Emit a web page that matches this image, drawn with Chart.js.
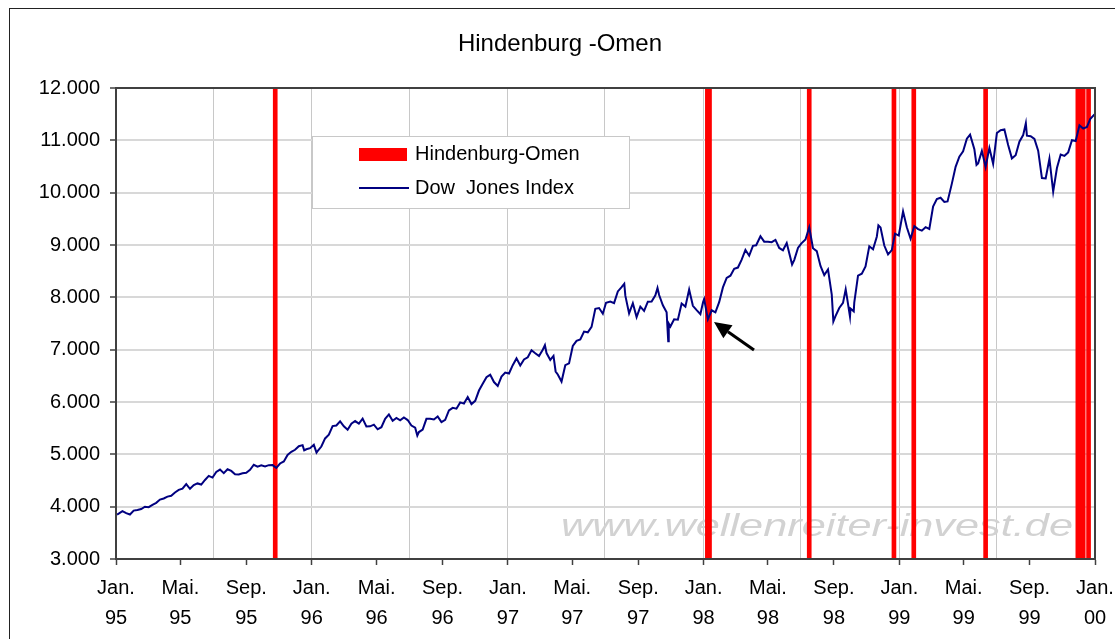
<!DOCTYPE html>
<html>
<head>
<meta charset="utf-8">
<script src="https://cdn.jsdelivr.net/npm/chart.js@4.4.1/dist/chart.umd.min.js"></script>
<style>
  html, body { margin: 0; padding: 0; background: #fff; overflow: hidden; }
  #wrap { width: 1115px; height: 639px; position: relative; }
</style>
</head>
<body>
<div id="wrap"><canvas id="c" width="1115" height="639"></canvas></div>
<script>
// ---------- DATA ----------
const chartTitle = 'Hindenburg -Omen';
const seriesOmenLabel = 'Hindenburg-Omen';
const seriesDowLabel = 'Dow  Jones Index';
const watermarkText = 'www.wellenreiter-invest.de';

const dowDates = [
'1995-01-03','1995-01-06','1995-01-13','1995-01-20','1995-01-27','1995-02-03','1995-02-10','1995-02-17','1995-02-24',
'1995-03-03','1995-03-10','1995-03-17','1995-03-24','1995-03-31','1995-04-07','1995-04-14','1995-04-21','1995-04-28',
'1995-05-05','1995-05-12','1995-05-19','1995-05-26','1995-06-02','1995-06-09','1995-06-16','1995-06-23','1995-06-30',
'1995-07-07','1995-07-14','1995-07-21','1995-07-28','1995-08-04','1995-08-11','1995-08-18','1995-08-25','1995-09-01',
'1995-09-08','1995-09-15','1995-09-22','1995-09-29','1995-10-06','1995-10-13','1995-10-20','1995-10-27','1995-11-03',
'1995-11-10','1995-11-17','1995-11-24','1995-12-01','1995-12-08','1995-12-15','1995-12-18','1995-12-22','1995-12-29',
'1996-01-05','1996-01-10','1996-01-12','1996-01-19','1996-01-26','1996-02-02','1996-02-09','1996-02-16','1996-02-23',
'1996-03-01','1996-03-08','1996-03-15','1996-03-22','1996-03-29','1996-04-05','1996-04-12','1996-04-19','1996-04-26',
'1996-05-03','1996-05-10','1996-05-17','1996-05-24','1996-05-31','1996-06-07','1996-06-14','1996-06-21','1996-06-28',
'1996-07-05','1996-07-12','1996-07-16','1996-07-19','1996-07-26','1996-08-02','1996-08-09','1996-08-16','1996-08-23',
'1996-08-30','1996-09-06','1996-09-13','1996-09-20','1996-09-27','1996-10-04','1996-10-11','1996-10-18','1996-10-25',
'1996-11-01','1996-11-08','1996-11-15','1996-11-22','1996-11-29','1996-12-06','1996-12-13','1996-12-20','1996-12-27',
'1997-01-03','1997-01-10','1997-01-17','1997-01-24','1997-01-31','1997-02-07','1997-02-14','1997-02-21','1997-02-28',
'1997-03-07','1997-03-11','1997-03-14','1997-03-21','1997-03-27','1997-03-31','1997-04-04','1997-04-11','1997-04-18',
'1997-04-25','1997-05-02','1997-05-09','1997-05-16','1997-05-23','1997-05-30','1997-06-06','1997-06-13','1997-06-20',
'1997-06-27','1997-07-03','1997-07-11','1997-07-18','1997-07-25','1997-08-01','1997-08-06','1997-08-08','1997-08-15',
'1997-08-22','1997-08-29','1997-09-05','1997-09-12','1997-09-19','1997-09-26','1997-10-03','1997-10-07','1997-10-10',
'1997-10-17','1997-10-24','1997-10-27','1997-10-28','1997-10-31','1997-11-07','1997-11-14','1997-11-21','1997-11-28',
'1997-12-05','1997-12-12','1997-12-19','1997-12-26','1997-12-31',
'1998-01-02','1998-01-09','1998-01-16','1998-01-23','1998-01-30','1998-02-06','1998-02-13','1998-02-20','1998-02-27',
'1998-03-06','1998-03-13','1998-03-20','1998-03-27','1998-04-03','1998-04-09','1998-04-17','1998-04-24','1998-05-01',
'1998-05-08','1998-05-15','1998-05-22','1998-05-29','1998-06-05','1998-06-15','1998-06-19','1998-06-26','1998-07-02',
'1998-07-10','1998-07-17','1998-07-24','1998-07-31','1998-08-07','1998-08-14','1998-08-21','1998-08-28','1998-08-31',
'1998-09-04','1998-09-11','1998-09-18','1998-09-23','1998-09-25','1998-10-01','1998-10-02','1998-10-08','1998-10-09',
'1998-10-16','1998-10-23','1998-10-30','1998-11-06','1998-11-13','1998-11-20','1998-11-23','1998-11-27','1998-12-04',
'1998-12-11','1998-12-18','1998-12-24','1998-12-31',
'1999-01-08','1999-01-15','1999-01-22','1999-01-29','1999-02-05','1999-02-12','1999-02-19','1999-02-26','1999-03-05',
'1999-03-12','1999-03-19','1999-03-26','1999-04-01','1999-04-09','1999-04-16','1999-04-23','1999-04-30','1999-05-07',
'1999-05-13','1999-05-21','1999-05-25','1999-05-28','1999-06-04','1999-06-11','1999-06-18','1999-06-25','1999-07-02',
'1999-07-09','1999-07-16','1999-07-23','1999-07-30','1999-08-06','1999-08-13','1999-08-20','1999-08-25','1999-08-27',
'1999-09-03','1999-09-10','1999-09-17','1999-09-24','1999-10-01','1999-10-08','1999-10-15','1999-10-22','1999-10-29',
'1999-11-05','1999-11-12','1999-11-19','1999-11-26','1999-12-03','1999-12-10','1999-12-17','1999-12-23','1999-12-31'
];
const dowValues = [
3850,3867,3915,3875,3850,3925,3937,3955,4000,
3990,4035,4073,4135,4157,4192,4208,4270,4321,
4343,4430,4341,4412,4444,4423,4510,4589,4556,
4664,4708,4641,4715,4683,4618,4615,4639,4647,
4703,4801,4764,4789,4769,4793,4794,4741,4825,
4865,4989,5048,5087,5156,5176,5075,5097,5117,
5181,5033,5061,5149,5304,5374,5540,5551,5630,
5536,5470,5585,5636,5587,5683,5532,5535,5567,
5478,5518,5679,5762,5643,5697,5649,5705,5655,
5550,5510,5358,5426,5473,5679,5681,5666,5722,
5616,5659,5838,5888,5872,5993,5969,6094,5960,
6022,6219,6348,6472,6522,6381,6305,6485,6561,
6545,6704,6833,6697,6813,6855,6988,6931,6878,
7000,7085,6935,6804,6880,6583,6527,6391,6703,
6738,7071,7169,7194,7345,7331,7435,7782,7796,
7687,7895,7921,7890,8113,8194,8259,8031,7694,
7887,7622,7822,7742,7917,7922,8038,8178,8045,
7847,7715,7161,7498,7442,7581,7572,7881,7823,
8149,7838,7756,7679,7908,
7965,7580,7753,7713,7907,8190,8370,8413,8546,
8569,8719,8906,8796,8984,8995,9167,9064,9063,
9055,9097,8944,8900,9037,8627,8712,8944,9026,
9106,9338,8938,8883,8599,8425,8534,8051,7539,
7640,7796,7895,8154,8028,7632,7785,7732,7899,
8416,8452,8592,8975,8919,9159,9374,9333,8990,
8821,8903,9217,9181,
9643,9340,9120,9358,9304,9274,9340,9306,9736,
9876,9903,9822,9832,10173,10493,10689,10789,11031,
11107,10829,10531,10560,10799,10490,10856,10552,11139,
11193,11209,10911,10655,10714,10974,11100,11326,11090,
11079,11028,10803,10279,10273,10649,10019,10470,10730,
10704,10770,11003,10988,11286,11225,11257,11405,11497
];

const omenDates = ['1995-10-25','1998-01-08','1998-01-12','1998-07-17','1998-12-22','1999-01-28','1999-06-11',
                   '1999-11-30','1999-12-02','1999-12-06','1999-12-09','1999-12-10','1999-12-20'];
const omenValues = [12000,12000,12000,12000,12000,12000,12000,12000,12000,12000,12000,12000,12000];

const xTickDates = ['1995-01-01','1995-05-01','1995-09-01','1996-01-01','1996-05-01','1996-09-01','1997-01-01','1997-05-01',
                    '1997-09-01','1998-01-01','1998-05-01','1998-09-01','1999-01-01','1999-05-01','1999-09-01','2000-01-01'];
const xTickMonthLabels = ['Jan.','Mai.','Sep.','Jan.','Mai.','Sep.','Jan.','Mai.','Sep.','Jan.','Mai.','Sep.','Jan.','Mai.','Sep.','Jan.'];
const xTickYearLabels  = ['95','95','95','96','96','96','97','97','97','98','98','98','99','99','99','00'];
const xGridDates = ['1995-07-01','1996-01-01','1996-07-01','1997-01-01','1997-07-01','1998-01-01','1998-07-01','1999-01-01','1999-07-01'];
const xStartDate = '1995-01-01';
const xEndDate = '2000-01-01';
const yMin = 3000, yMax = 12000, yStep = 1000;

// ---------- helpers ----------
function dayNum(s) {
  const p = s.split('-').map(Number);
  return Math.round((Date.UTC(p[0], p[1] - 1, p[2]) - Date.UTC(1995, 0, 1)) / 864e5);
}
const xTickDays = xTickDates.map(dayNum);
const xGridDays = xGridDates.map(dayNum);
const allTickDays = Array.from(new Set(xTickDays.concat(xGridDays))).sort((a, b) => a - b);
function fmtDE(v) { return String(v).replace(/\B(?=(\d{3})+(?!\d))/g, '.'); }

const FONT = "'Liberation Sans', Arial, sans-serif";

const decor = {
  id: 'decor',
  beforeDraw(chart) {
    const ctx = chart.ctx;
    ctx.save();
    ctx.fillStyle = '#fff';
    ctx.fillRect(0, 0, chart.width, chart.height);
    ctx.strokeStyle = '#222';
    ctx.lineWidth = 1;
    ctx.strokeRect(9.5, 8.5, 1300, 800);
    ctx.fillStyle = '#000';
    ctx.font = '24px ' + FONT;
    ctx.textAlign = 'center';
    ctx.textBaseline = 'middle';
    ctx.fillText(chartTitle, 560, 44);
    ctx.restore();
  },
  beforeDatasetsDraw(chart) {
    const ctx = chart.ctx;
    ctx.save();
    ctx.font = 'italic 32px ' + FONT;
    const w = ctx.measureText(watermarkText).width;
    ctx.translate(561, 536);
    ctx.scale(512 / w, 1);
    ctx.fillStyle = '#d2d2d2';
    ctx.textAlign = 'left';
    ctx.textBaseline = 'alphabetic';
    ctx.fillText(watermarkText, 0, 0);
    ctx.restore();
  },
  afterDatasetsDraw(chart) {
    const ctx = chart.ctx;
    const a = chart.chartArea;
    ctx.save();
    // plot border
    ctx.strokeStyle = '#404040';
    ctx.lineWidth = 2;
    ctx.strokeRect(a.left, a.top, a.right - a.left, a.bottom - a.top);
    // legend
    const lx = 312.5, ly = 136.5, lw = 317, lh = 72;
    ctx.fillStyle = '#fff';
    ctx.fillRect(lx, ly, lw, lh);
    ctx.strokeStyle = '#c8c8c8';
    ctx.lineWidth = 1;
    ctx.strokeRect(lx, ly, lw, lh);
    ctx.fillStyle = '#ff0000';
    ctx.fillRect(359, 148, 48, 13);
    ctx.strokeStyle = '#000080';
    ctx.lineWidth = 2;
    ctx.beginPath(); ctx.moveTo(359, 188); ctx.lineTo(409, 188); ctx.stroke();
    ctx.fillStyle = '#000';
    ctx.font = '20px ' + FONT;
    ctx.textAlign = 'left';
    ctx.textBaseline = 'alphabetic';
    ctx.fillText(seriesOmenLabel, 415, 160);
    ctx.fillText(seriesDowLabel, 415, 194);
    // arrow
    const tx = 714, ty = 322, sx = 754, sy = 350;
    const ang = Math.atan2(ty - sy, tx - sx);
    const hl = 17, hw = 8;
    const bx = tx - hl * Math.cos(ang), by = ty - hl * Math.sin(ang);
    ctx.strokeStyle = '#000';
    ctx.lineWidth = 3;
    ctx.beginPath(); ctx.moveTo(sx, sy); ctx.lineTo(bx, by); ctx.stroke();
    ctx.fillStyle = '#000';
    ctx.beginPath();
    ctx.moveTo(tx, ty);
    ctx.lineTo(bx + hw * Math.sin(ang), by - hw * Math.cos(ang));
    ctx.lineTo(bx - hw * Math.sin(ang), by + hw * Math.cos(ang));
    ctx.closePath(); ctx.fill();
    ctx.restore();
  }
};

new Chart(document.getElementById('c'), {
  type: 'bar',
  data: {
    datasets: [
      {
        type: 'line',
        label: seriesDowLabel,
        data: dowDates.map((d, i) => ({ x: dayNum(d), y: dowValues[i] })),
        borderColor: '#000080',
        borderWidth: 2,
        pointRadius: 0,
        tension: 0,
        fill: false,
        order: 0
      },
      {
        type: 'bar',
        label: seriesOmenLabel,
        data: omenDates.map((d, i) => ({ x: dayNum(d), y: omenValues[i] })),
        backgroundColor: '#ff0000',
        borderWidth: 0,
        barThickness: 4,
        order: 1
      }
    ]
  },
  options: {
    responsive: false,
    devicePixelRatio: 1,
    animation: false,
    events: [],
    layout: { padding: { top: 88, right: 20, left: 0, bottom: 0 } },
    plugins: { legend: { display: false }, tooltip: { enabled: false }, title: { display: false } },
    scales: {
      x: {
        type: 'linear',
        offset: false,
        min: dayNum(xStartDate),
        max: dayNum(xEndDate),
        afterBuildTicks(scale) { scale.ticks = allTickDays.map(v => ({ value: v })); },
        afterFit(scale) { scale.height = 80; scale.paddingLeft = 0; scale.paddingRight = 0; },
        border: { display: true, color: '#404040', width: 2 },
        grid: {
          offset: false,
          color: c => (c.tick && xGridDays.includes(c.tick.value)) ? '#c8c8c8' : 'rgba(0,0,0,0)',
          lineWidth: 1,
          tickColor: c => (c.tick && xTickDays.includes(c.tick.value)) ? '#404040' : 'rgba(0,0,0,0)',
          tickLength: 6,
          tickWidth: 1.5,
          drawTicks: true
        },
        ticks: {
          autoSkip: false,
          maxRotation: 0,
          minRotation: 0,
          padding: 8,
          color: '#000',
          font: { family: FONT, size: 20, lineHeight: 1.5 },
          callback(v) {
            const i = xTickDays.indexOf(v);
            return i >= 0 ? [xTickMonthLabels[i], xTickYearLabels[i]] : '';
          }
        }
      },
      y: {
        min: yMin,
        max: yMax,
        afterFit(scale) { scale.width = 116; scale.paddingTop = 0; scale.paddingBottom = 0; },
        border: { display: true, color: '#404040', width: 2 },
        grid: { color: '#d8d8d8', lineWidth: 2, tickColor: '#404040', tickLength: 6, tickWidth: 1.5 },
        ticks: {
          stepSize: yStep,
          padding: 10,
          color: '#000',
          font: { family: FONT, size: 20 },
          callback: v => fmtDE(v)
        }
      }
    }
  },
  plugins: [decor]
});
</script>
</body>
</html>
